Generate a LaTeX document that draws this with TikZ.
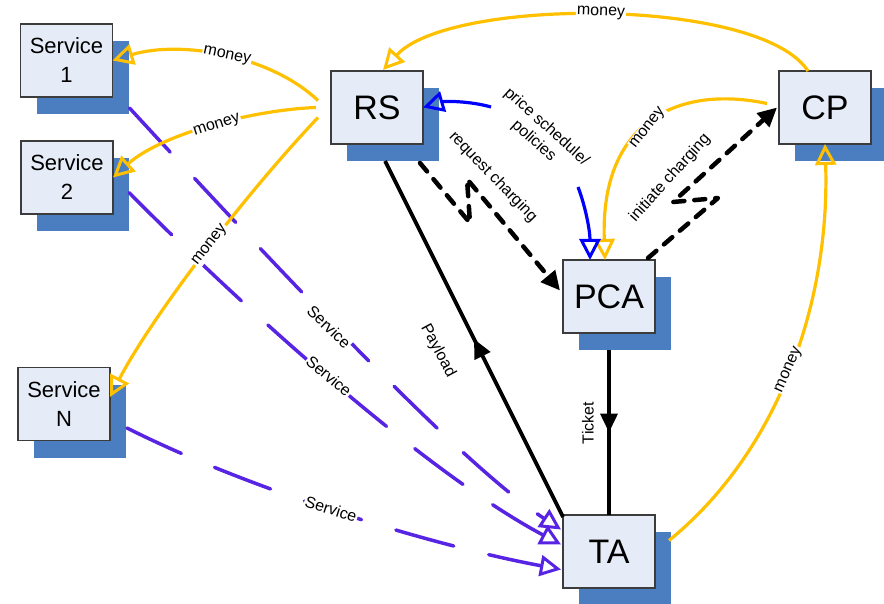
\documentclass[tikz,border=0pt]{standalone}
\usepackage{fontspec}
\setmainfont{Liberation Sans}
\usetikzlibrary{arrows.meta,shadows,calc,decorations.markings}
\definecolor{ylw}{RGB}{255,192,0}
\definecolor{prp}{RGB}{88,36,228}
\definecolor{shd}{RGB}{74,126,193}
\definecolor{bfill}{RGB}{230,236,247}
\definecolor{bdr}{RGB}{60,60,60}
\definecolor{pblue}{RGB}{0,0,255}
\begin{document}
\begin{tikzpicture}[x=1pt,y=-1pt,
  box/.style={draw=bdr, line width=1.3pt, fill=bfill, minimum width=92pt, minimum height=73pt,
    inner sep=0pt, outer sep=0pt, align=center,
    general shadow={fill=shd, shadow xshift=16pt, shadow yshift=-17pt}},
  bigbox/.style={box, font=\fontsize{34}{40}\selectfont},
  smallbox/.style={box, font=\fontsize{22}{29}\selectfont},
  lbl/.style={font=\fontsize{16}{19}\selectfont, inner sep=1pt, fill=white},
  txt/.style={font=\fontsize{16}{19}\selectfont, inner sep=1pt},
  opentip/.style={-{Triangle[open,length=21pt,width=21pt,line width=3pt]}},
  ymoney/.style={draw=ylw, line width=3.2pt, opentip},
  bluearr/.style={draw=pblue, line width=3.2pt, opentip},
  dasharr/.style={draw=black, line width=4.5pt, dash pattern=on 11pt off 10pt, line cap=round, line join=round,
    -{Triangle[length=19pt,width=18pt]}},
  svc/.style={draw=prp, line width=3.5pt, dash pattern=on 60pt off 36pt, line cap=round, opentip},
  solidline/.style={draw=black, line width=3.8pt},
  midarrow/.style={postaction={decorate}, decoration={markings,
    mark=at position #1 with {\arrow{Triangle[length=19pt,width=17pt]}}}}
]
\useasboundingbox (0,0) rectangle (884,604);

% boxes
\node[smallbox] (S1) at (66.5,60.5) {Service\\1};
\node[smallbox] (S2) at (67,177.5) {Service\\2};
\node[smallbox] (SN) at (64,404) {Service\\N};
\node[bigbox] (RS) at (377,107.5) {RS};
\node[bigbox] (CP) at (825,107.5) {CP};
\node[bigbox] (PCA) at (609,296.5) {PCA};
\node[bigbox] (TA) at (609,551.5) {TA};

% service lines
\draw[svc] ($(S1.south east)+(17,11)$) .. controls (320,315) and (470,470) .. ($(TA.west)+(-2,-22)$);
\draw[svc] ($(S2.east)+(16,15)$) .. controls (250,315) and (430,475) .. ($(TA.west)+(-2,-7)$);
\draw[svc] ($(SN.east)+(17,24)$) .. controls (250,490) and (430,545) .. ($(TA.west)+(-2,18)$);

% money lines
\draw[ymoney] ($(CP.north)+(-17,0)$) .. controls (760,-3) and (450,-3) .. ($(RS.north)+(6,-1)$);
\draw[ymoney] ($(RS.west)+(-13,-7)$) .. controls (270,55) and (180,40) .. (S1.east);
\draw[ymoney] ($(RS.west)+(-15,0)$) .. controls (250,110) and (160,135) .. (S2.east);
\draw[ymoney] ($(RS.west)+(-13,10)$) .. controls (240,200) and (150,320) .. ($(SN.east)+(0,-7)$);
\draw[ymoney] ($(CP.west)+(-12,-4)$) .. controls (680,85) and (600,120) .. ($(PCA.north)+(-4,0)$);
\draw[ymoney] ($(TA.east)+(14,-11)$) .. controls (780,450) and (830,300) .. (CP.south);

% price schedule
\coordinate (b1) at (491,107);
\coordinate (b2) at (578,187);
\draw[bluearr] (b1) .. controls (470,101) and (445,101) .. (RS.east);
\draw[bluearr] (b2) .. controls (585,205) and (590,230) .. ($(PCA.north)+(-19,0)$);

% charging
\draw[dasharr] ($(RS.south east)+(-3,19)$) -- (470,223) -- (467,179) -- ($(PCA.west)+(-3,-6)$);
\draw[dasharr] ($(PCA.north east)+(-7,-2)$) -- (718,198) -- (673,202) -- ($(CP.west)+(-2,0)$);

% payload and ticket
\draw[solidline, midarrow=0.5] ($(TA.north west)+(0,2)$) -- ($(RS.south)+(8,17)$);
\draw[solidline, midarrow=0.5] ($(PCA.south)+(0,17)$) -- (TA.north);

% labels
\node[lbl,rotate=-2] (m1) at (601,13) {money};
\node[lbl,rotate=-12] (m2) at (227,56) {money};
\node[lbl,rotate=18] (m3) at (217,126) {money};
\node[lbl,rotate=52] (m4) at (210,245) {money};
\node[lbl,rotate=52] (m5) at (648,128) {money};
\node[lbl,rotate=66] (m6) at (789,370) {money};
\node[lbl,rotate=-44] (sv1) at (329,327) {Service};
\node[lbl,rotate=-40] (sv2) at (329,376) {Service};
\node[lbl,rotate=-18] (sv3) at (331,509) {Service};
\node[txt,rotate=-42,align=center] (ps) at (540,134) {price schedule/\\policies};
\node[txt,rotate=-46] (rc) at (493,177) {request charging};
\node[txt,rotate=48] (ic) at (670,178) {initiate charging};
\node[txt,rotate=-62] (pl) at (438,351) {Payload};
\node[txt,rotate=90] (tk) at (588,423) {Ticket};
\end{tikzpicture}
\end{document}
